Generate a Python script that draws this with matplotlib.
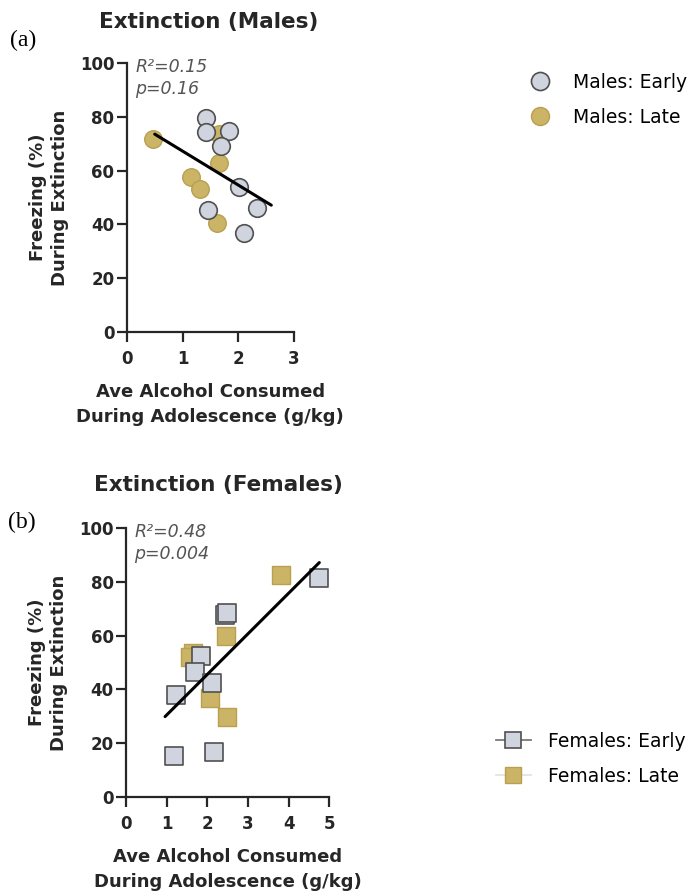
import numpy as np
import matplotlib.pyplot as plt
from matplotlib.lines import Line2D

plt.rcParams['font.family'] = ['DejaVu Sans']

# males: ave alcohol (g/kg) vs freezing (%)
male_early_x = [1.42, 1.42, 1.83, 1.69, 2.02, 2.34, 1.46, 2.10]
male_early_y = [79.4, 74.5, 74.8, 69.1, 54.0, 46.0, 45.4, 36.9]
male_late_x = [0.47, 1.66, 1.66, 1.15, 1.32, 1.62]
male_late_y = [71.6, 73.6, 62.7, 57.5, 53.0, 40.6]

# females
female_early_x = [4.74, 2.43, 2.47, 1.84, 1.70, 2.11, 1.23, 1.18, 2.17]
female_early_y = [81.3, 67.7, 68.3, 52.4, 46.6, 42.5, 37.9, 15.2, 16.8]
female_late_x = [3.80, 2.46, 1.65, 1.58, 2.06, 2.48]
female_late_y = [82.6, 59.9, 53.4, 52.2, 36.6, 29.6]

male_stats = ['R²=0.15', 'p=0.16']
female_stats = ['R²=0.48', 'p=0.004']

gray_fill = '#d0d4de'
gray_edge = '#505050'
gold_fill = '#cbb466'
gold_edge = '#b9a050'
ink = '#262626'
lw = 1.6
fs_tick = 12
fs_label = 13

fig = plt.figure(figsize=(6.91, 8.96), dpi=100)
ax1 = fig.add_axes([127 / 691, 1 - 332 / 896, 166.5 / 691, 269 / 896])
ax2 = fig.add_axes([126 / 691, 1 - 796.7 / 896, 203.5 / 691, 268.4 / 896])


def style_axis(ax, xmax, xticks):
    ax.set_xlim(0, xmax)
    ax.set_ylim(0, 100)
    ax.set_xticks(xticks)
    ax.set_yticks([0, 20, 40, 60, 80, 100])
    for s in ['top', 'right']:
        ax.spines[s].set_visible(False)
    for s in ['left', 'bottom']:
        ax.spines[s].set_linewidth(lw)
        ax.spines[s].set_color(ink)
    ax.tick_params(width=lw, length=7, color=ink, labelsize=fs_tick)
    ax.tick_params(axis='x', pad=6)
    ax.tick_params(axis='y', pad=2)
    for lab in ax.get_xticklabels() + ax.get_yticklabels():
        lab.set_fontweight('bold')
        lab.set_color(ink)
    ax.set_ylabel('Freezing (%)\nDuring Extinction', fontsize=fs_label,
                  fontweight='bold', color=ink, labelpad=8, linespacing=1.3)
    ax.set_xlabel('Ave Alcohol Consumed\nDuring Adolescence (g/kg)', fontsize=fs_label,
                  fontweight='bold', color=ink, labelpad=11, linespacing=1.5)


def fit_line(ax, xs, ys, x0, x1):
    k, b = np.polyfit(xs, ys, 1)
    xx = np.array([x0, x1])
    ax.plot(xx, k * xx + b, color='black', lw=2.2, zorder=4, solid_capstyle='round')


def stats_text(ax, lines):
    for i, t in enumerate(lines):
        ax.annotate(t, xy=(0, 1), xycoords='axes fraction',
                    xytext=(6, -3 - i * 15.5), textcoords='offset points',
                    fontsize=12.5, style='italic', color='#555555',
                    ha='left', va='center')


# (a) males
style_axis(ax1, 3, [0, 1, 2, 3])
ax1.scatter(male_late_x, male_late_y, s=160, marker='o', c=gold_fill,
            edgecolors=gold_edge, linewidths=1.0, zorder=3)
ax1.scatter(male_early_x, male_early_y, s=160, marker='o', c=gray_fill,
            edgecolors=gray_edge, linewidths=1.2, zorder=3)
fit_line(ax1, male_early_x + male_late_x, male_early_y + male_late_y, 0.5, 2.6)
stats_text(ax1, male_stats)

# (b) females
style_axis(ax2, 5, [0, 1, 2, 3, 4, 5])
ax2.scatter(female_late_x, female_late_y, s=160, marker='s', c=gold_fill,
            edgecolors=gold_edge, linewidths=1.0, zorder=3)
ax2.scatter(female_early_x, female_early_y, s=160, marker='s', c=gray_fill,
            edgecolors=gray_edge, linewidths=1.2, zorder=3)
fit_line(ax2, female_early_x + female_late_x, female_early_y + female_late_y, 0.96, 4.75)
stats_text(ax2, female_stats)

# titles and panel letters
fig.text(209 / 691, 1 - 22 / 896, 'Extinction (Males)', fontsize=15.5, fontweight='bold',
         ha='center', va='center', color=ink)
fig.text(218 / 691, 1 - 485 / 896, 'Extinction (Females)', fontsize=15.5, fontweight='bold',
         ha='center', va='center', color=ink)
fig.text(10 / 691, 1 - 40 / 896, '(a)', fontsize=17, family='Liberation Serif',
         ha='left', va='center')
fig.text(8 / 691, 1 - 522 / 896, '(b)', fontsize=17, family='Liberation Serif',
         ha='left', va='center')

# legends
h_male = [
    Line2D([], [], ls='none', marker='o', ms=13, mfc=gray_fill, mec=gray_edge, mew=1.2),
    Line2D([], [], ls='none', marker='o', ms=13, mfc=gold_fill, mec=gold_edge, mew=1.0),
]
fig.legend(h_male, ['Males: Early', 'Males: Late'], loc='center left',
           bbox_to_anchor=(511 / 691, 1 - 100 / 896), frameon=False, fontsize=13.5,
           handlelength=1.3, handletextpad=1.1, labelspacing=0.85)
h_female = [
    Line2D([], [], ls='-', color='#7a7a7a', lw=1.3, marker='s', ms=12,
           mfc=gray_fill, mec=gray_edge, mew=1.2),
    Line2D([], [], ls='-', color='#e4e4e4', lw=1.3, marker='s', ms=12,
           mfc=gold_fill, mec=gold_edge, mew=1.0),
]
fig.legend(h_female, ['Females: Early', 'Females: Late'], loc='center left',
           bbox_to_anchor=(479 / 691, 1 - 759 / 896), frameon=False, fontsize=13.5,
           handlelength=1.85, handletextpad=0.93, labelspacing=0.85)

fig.savefig('out.png', dpi=100)
